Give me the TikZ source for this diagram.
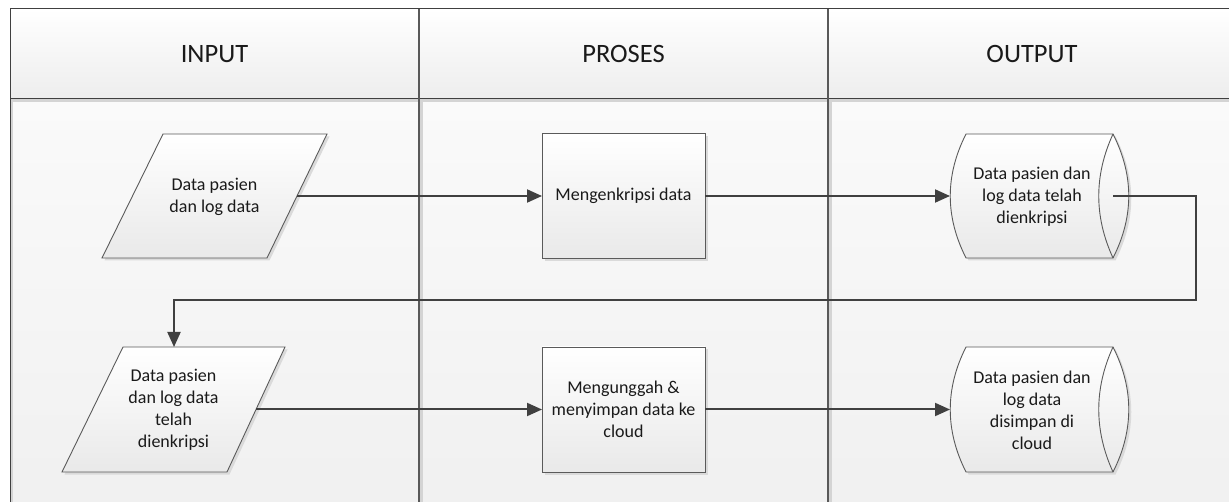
\documentclass[tikz,border=0pt]{standalone}
\usepackage{fontspec}
\setmainfont{Carlito}
\usetikzlibrary{arrows.meta,shadows}

\definecolor{inkline}{HTML}{404040}
\definecolor{divline}{HTML}{595959}
\definecolor{divshade}{HTML}{D4D4D4}
\definecolor{hdrbot}{HTML}{EDEDED}
\definecolor{bodytop}{HTML}{FAFAFA}
\definecolor{bodybot}{HTML}{F0F0F0}
\definecolor{shapebot}{HTML}{E9E9E9}
\definecolor{shapeline}{HTML}{5A5A5A}
\definecolor{shadowgray}{HTML}{DADADA}
\definecolor{txt}{HTML}{1A1A1A}

\tikzset{
  lanehead/.style={font=\fontsize{26.5}{30}\selectfont, text=txt},
  label/.style={font=\fontsize{18}{22}\selectfont, text=txt, align=center, inner sep=0pt},
  shapebody/.style={top color=white, bottom color=shapebot, draw=shapeline, line width=0.9pt,
    drop shadow={shadow xshift=2.5pt, shadow yshift=-2.5pt, fill=shadowgray, opacity=1}},
  procbox/.style={shapebody, rectangle, minimum width=163pt, minimum height=125pt,
    inner sep=0pt, outer sep=0pt, font=\fontsize{18}{22}\selectfont, text=txt, align=center},
  conn/.style={draw=inkline, line width=2pt, -{Triangle[length=15pt,width=13pt]}},
  plainconn/.style={draw=inkline, line width=2pt},
}

\begin{document}
\begin{tikzpicture}[x=1pt,y=-1pt]
\useasboundingbox (0,0) rectangle (1229,502);
\clip (0,0) rectangle (1229,502);
\fill[white] (0,0) rectangle (1229,502);

% swimlane backgrounds
\shade[top color=white, bottom color=hdrbot] (10,9) rectangle (1238,99);
\shade[top color=bodytop, bottom color=bodybot] (10,99) rectangle (1238,520);
\fill[divshade] (10.5,99.5) rectangle (1238,102);
\fill[divshade] (419.5,99) rectangle (422.5,520);
\fill[divshade] (828.5,99) rectangle (831.5,520);
\fill[divshade] (10.5,99) rectangle (13,520);

% swimlane frame and dividers
\draw[inkline, line width=1pt] (10,520) -- (10,9) -- (1238,9) -- (1238,520);
\draw[inkline, line width=1pt] (10,99) -- (1238,99);
\draw[divline, line width=1.2pt] (419,9) -- (419,520);
\draw[divline, line width=1.2pt] (828,9) -- (828,520);

% lane titles
\node[lanehead] (hin)  at (214.5,54) {INPUT};
\node[lanehead] (hpro) at (623.5,54) {PROSES};
\node[lanehead] (hout) at (1032,54) {OUTPUT};

% row 1: input data (parallelogram)
\path[shapebody] (163,134) -- (327,134) -- (267,258) -- (102,258) -- cycle;
\node[label] (in1) at (214.5,197) {Data pasien\\dan log data};
\coordinate (in1e) at (297,196);

% row 1: process
\node[procbox] (p1) at (623.5,196) {Mengenkripsi data};

% row 1: stored data
\path[shapebody] (966,134) -- (1113,134)
  .. controls (1134,175.5) and (1134,216.5) .. (1113,258)
  -- (966,258)
  .. controls (945,216.5) and (945,175.5) .. (966,134) -- cycle;
\draw[shapeline, line width=0.9pt] (1113,134) .. controls (1094,175.5) and (1094,216.5) .. (1113,258);
\node[label] (o1) at (1032,197) {Data pasien dan\\log data telah\\dienkripsi};
\coordinate (o1w) at (950,196);
\coordinate (o1x) at (1113,196);

% row 2: input data (parallelogram)
\path[shapebody] (123,347) -- (285,347) -- (227,472) -- (62,472) -- cycle;
\node[label] (in2) at (173.5,410) {Data pasien\\dan log data\\telah\\dienkripsi};
\coordinate (in2e) at (256,409.5);
\coordinate (in2n) at (174,347);

% row 2: process
\node[procbox] (p2) at (623.5,409.5) {Mengunggah \&\\menyimpan data ke\\cloud};

% row 2: stored data
\path[shapebody] (966,347) -- (1113,347)
  .. controls (1134,388.5) and (1134,430.5) .. (1113,472)
  -- (966,472)
  .. controls (945,430.5) and (945,388.5) .. (966,347) -- cycle;
\draw[shapeline, line width=0.9pt] (1113,347) .. controls (1094,388.5) and (1094,430.5) .. (1113,472);
\node[label] (o2) at (1032,410) {Data pasien dan\\log data\\disimpan di\\cloud};
\coordinate (o2w) at (950,409.5);

% connectors
\coordinate (loopR) at (1196,300);
\draw[conn] (in1e) -- (p1.west);
\draw[conn] (p1.east) -- (o1w);
\draw[conn] (o1x) -| (loopR) -| (in2n);
\draw[conn] (in2e) -- (p2.west);
\draw[conn] (p2.east) -- (o2w);
\end{tikzpicture}
\end{document}
